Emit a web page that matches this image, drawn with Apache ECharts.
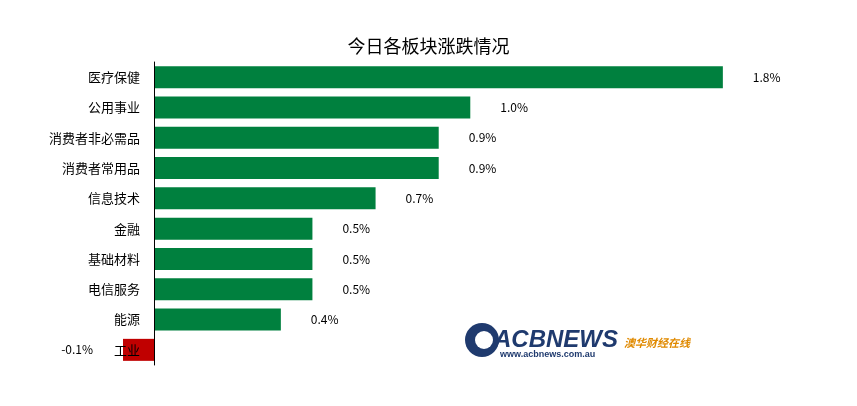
<!DOCTYPE html>
<html><head><meta charset="utf-8">
<script src="https://cdn.jsdelivr.net/npm/echarts@6/dist/echarts.min.js"></script>
<style>html,body{margin:0;padding:0;background:#fff}#c{width:857px;height:406px}</style>
</head><body><div id="c"></div>
<script>
const categories = ['医疗保健','公用事业','消费者非必需品','消费者常用品','信息技术','金融','基础材料','电信服务','能源','工业'];
const values = [1.8,1.0,0.9,0.9,0.7,0.5,0.5,0.5,0.4,-0.1];
const font = '"Microsoft YaHei","Noto Sans CJK SC",sans-serif';
const chart = echarts.init(document.getElementById('c'));
chart.setOption({
  backgroundColor:'#fff',
  animation:false,
  title:{text:'今日各板块涨跌情况',left:'center',top:32,textStyle:{fontFamily:font,fontSize:18,fontWeight:'normal',color:'#000'}},
  grid:{left:123,right:71,top:62,bottom:41,containLabel:false},
  xAxis:{type:'value',min:-0.1,max:2.0,show:false},
  yAxis:{type:'category',data:categories,inverse:true,z:5,
    axisLine:{onZero:true,lineStyle:{color:'#000'}},axisTick:{show:false},
    axisLabel:{margin:-17,color:'#000',fontSize:13,fontFamily:font}},
  series:[{type:'bar',barWidth:22,z:2,
    data:values.map(v=>({value:v,itemStyle:{color:v<0?'#C00000':'#00803E'},
      label:{show:true,position:v<0?'left':'right',distance:30}})),
    label:{formatter:p=>p.value.toFixed(1)+'%',color:'#000',fontSize:12,fontFamily:font}
  }],
  graphic:[
    {type:'circle',shape:{cx:482,cy:340,r:17},style:{fill:'#1f3a6e'}},
    {type:'circle',shape:{cx:484,cy:340,r:9},style:{fill:'#fff'}},
    {type:'text',left:494,top:328,style:{text:'ACBNEWS',fill:'#1f3a6e',font:'bold italic 24px Arial'}},
    {type:'text',left:624,top:337,style:{text:'澳华财经在线',fill:'#e08a00',font:'bold italic 11px "Noto Sans CJK SC"'}},
    {type:'text',left:500,top:350,style:{text:'www.acbnews.com.au',fill:'#1f3a6e',font:'bold 9px Arial'}}
  ]
});
</script></body></html>
